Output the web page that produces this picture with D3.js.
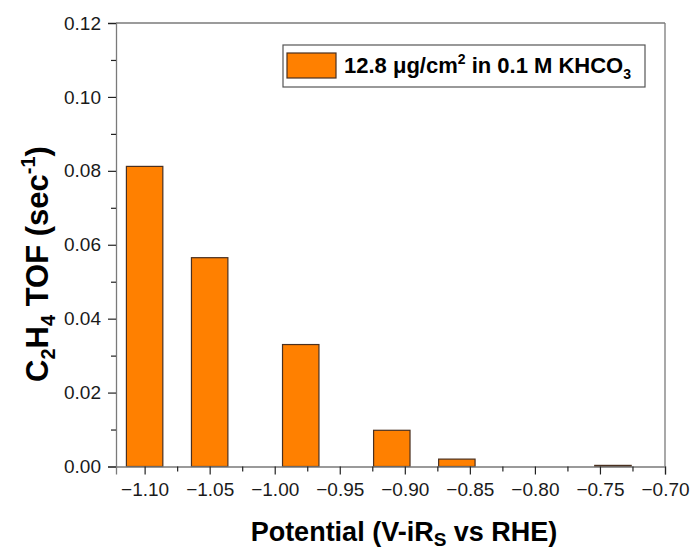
<!DOCTYPE html>
<html>
<head>
<meta charset="utf-8">
<script src="https://cdn.jsdelivr.net/npm/d3@7"></script>
<style>
  body { margin: 0; background: #fff; }
  svg { display: block; font-family: Arial, "Liberation Sans", sans-serif; }
</style>
</head>
<body>
<svg id="chart" width="694" height="551"></svg>
<script>
// bar data (potential in V, TOF in 1/s)
const potentials = [-1.10, -1.05, -0.98, -0.91, -0.86, -0.74];
const tofValues = [0.0812, 0.0565, 0.0330, 0.0098, 0.0020, 0.0003];
const barWidth = 0.028;

const xMajorTicks = [-1.10, -1.05, -1.00, -0.95, -0.90, -0.85, -0.80, -0.75, -0.70];
const xMinorTicks = [-1.075, -1.025, -0.975, -0.925, -0.875, -0.825, -0.775, -0.725];
const yMajorTicks = [0, 0.02, 0.04, 0.06, 0.08, 0.10, 0.12];
const yMinorTicks = [0.01, 0.03, 0.05, 0.07, 0.09, 0.11];

const svg = d3.select('#chart');

const plotL = 116, plotR = 665, plotT = 23, plotB = 466.5;

const x = d3.scaleLinear().domain([-1.122, -0.70]).range([plotL, plotR]);
const y = d3.scaleLinear().domain([0, 0.12]).range([plotB, plotT]);

// frame top + right
svg.append('line')
  .attr('x1', plotL).attr('x2', plotR).attr('y1', plotT).attr('y2', plotT)
  .attr('stroke', '#7a7a7a').attr('stroke-width', 1.3);
svg.append('line')
  .attr('x1', plotR).attr('x2', plotR).attr('y1', plotT).attr('y2', plotB)
  .attr('stroke', '#7a7a7a').attr('stroke-width', 1.3);

// bars
svg.append('g')
  .selectAll('rect')
  .data(potentials.map((p, i) => ({ p, v: tofValues[i] })))
  .join('rect')
  .attr('x', d => x(d.p - barWidth / 2))
  .attr('width', d => x(d.p + barWidth / 2) - x(d.p - barWidth / 2))
  .attr('y', d => y(d.v))
  .attr('height', d => y(0) - y(d.v))
  .attr('fill', '#ff8000')
  .attr('stroke', '#4a3020')
  .attr('stroke-width', 1.2);

// axes
let fmt = d3.format('.2f');

svg.append('g').attr('transform', `translate(0,${plotB})`)
  .call(d3.axisBottom(x).tickValues(xMajorTicks).tickFormat(fmt).tickSize(8).tickPadding(8));
svg.append('g').attr('transform', `translate(0,${plotB})`)
  .call(d3.axisBottom(x).tickValues(xMinorTicks).tickFormat('').tickSize(5))
  .call(g => g.select('.domain').remove());

svg.append('g').attr('transform', `translate(${plotL},0)`)
  .call(d3.axisLeft(y).tickValues(yMajorTicks).tickFormat(fmt).tickSize(8).tickPadding(7));
svg.append('g').attr('transform', `translate(${plotL},0)`)
  .call(d3.axisLeft(y).tickValues(yMinorTicks).tickFormat('').tickSize(5))
  .call(g => g.select('.domain').remove());

svg.selectAll('.domain').attr('stroke', '#7a7a7a').attr('stroke-width', 1.3);
svg.selectAll('.tick line').attr('stroke', '#222').attr('stroke-width', 1.2);
svg.selectAll('.tick text').attr('font-size', 19).attr('fill', '#1a1a1a')
  .attr('font-family', 'Arial, "Liberation Sans", sans-serif');

// axis titles
let xt = svg.append('text')
  .attr('x', 404).attr('y', 541)
  .attr('text-anchor', 'middle')
  .attr('font-size', 27).attr('font-weight', 'bold');
xt.append('tspan').text('Potential (V-iR');
xt.append('tspan').attr('font-size', 19).attr('dy', 5).text('S');
xt.append('tspan').attr('dy', -5).text(' vs RHE)');

let yt = svg.append('text')
  .attr('transform', 'translate(48,264) rotate(-90)')
  .attr('text-anchor', 'middle')
  .attr('font-size', 31).attr('font-weight', 'bold');
yt.append('tspan').text('C');
yt.append('tspan').attr('font-size', 20).attr('dy', 7).text('2');
yt.append('tspan').attr('dy', -7).text('H');
yt.append('tspan').attr('font-size', 20).attr('dy', 7).text('4');
yt.append('tspan').attr('dy', -7).text(' TOF (sec');
yt.append('tspan').attr('font-size', 20).attr('dy', -13).text('-1');
yt.append('tspan').attr('dy', 13).text(')');

// legend
let legend = svg.append('g');
legend.append('rect')
  .attr('x', 283).attr('y', 45).attr('width', 362).attr('height', 42)
  .attr('fill', '#fff').attr('stroke', '#555').attr('stroke-width', 1.2);
legend.append('rect')
  .attr('x', 287).attr('y', 53).attr('width', 49).attr('height', 25)
  .attr('fill', '#ff8000').attr('stroke', '#4a3020').attr('stroke-width', 1.2);
let lt = legend.append('text')
  .attr('x', 344).attr('y', 73)
  .attr('font-size', 22).attr('font-weight', 'bold');
lt.append('tspan').text('12.8 \u03bcg/cm');
lt.append('tspan').attr('font-size', 14).attr('dy', -9).text('2');
lt.append('tspan').attr('dy', 9).text(' in 0.1 M KHCO');
lt.append('tspan').attr('font-size', 14).attr('dy', 6).text('3');
</script>
</body>
</html>
